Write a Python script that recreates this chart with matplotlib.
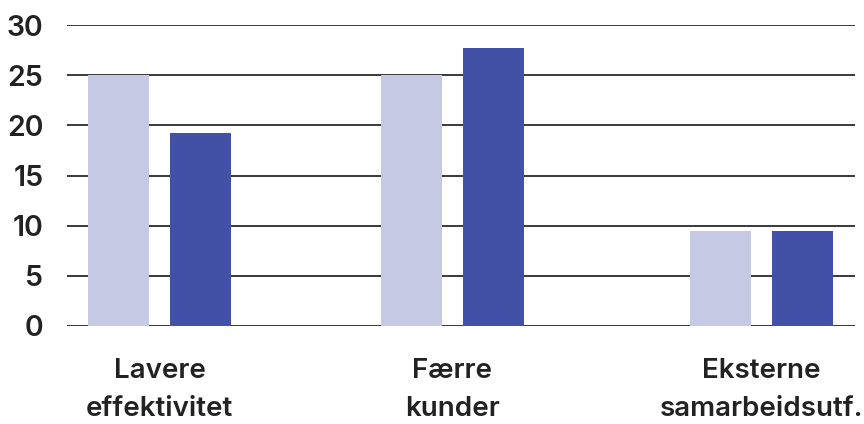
import matplotlib.pyplot as plt
import numpy as np

# ============================================================================
# DATA
# ============================================================================

categories = ['Lavere\neffektivitet', 'Færre\nkunder', 'Eksterne\nsamarbeidsutf.']
series_light = [25.0, 25.0, 9.5]
series_dark = [19.2, 27.7, 9.5]
y_ticks = [0, 5, 10, 15, 20, 25, 30]

# layout (group centres in axis units, axis spans 0..788)
group_pos = [92.5, 385.5, 694.5]
BAR_W = 61
GAP = 21

LIGHT = '#c5c9e3'
DARK = '#4350a8'
TEXT = '#222222'

plt.rcParams['font.family'] = ['Inter', 'DejaVu Sans']

fig = plt.figure(figsize=(8.64, 4.24), dpi=100)
ax = fig.add_axes([67 / 864, 1 - 326 / 424, 788 / 864, 301 / 424])

x = np.array(group_pos)
off = (BAR_W + GAP) / 2
ax.bar(x - off, series_light, width=BAR_W, color=LIGHT, zorder=2)
ax.bar(x + off, series_dark, width=BAR_W, color=DARK, zorder=2)

for t in y_ticks:
    ax.axhline(t, color='#2a2a2a', linewidth=1.3, zorder=1)

ax.set_xlim(0, 788)
ax.set_ylim(0, 30)
ax.set_yticks(y_ticks)
ax.set_yticklabels([str(t) for t in y_ticks], fontsize=20.5, fontweight='semibold', color=TEXT)
ax.set_xticks(group_pos)
ax.set_xticklabels(categories, fontsize=20, fontweight='semibold', color=TEXT, linespacing=1.6)
ax.tick_params(axis='y', length=0, pad=17)
ax.tick_params(axis='x', length=0, pad=23)
for s in ax.spines.values():
    s.set_visible(False)

plt.savefig('out.png', dpi=100)
